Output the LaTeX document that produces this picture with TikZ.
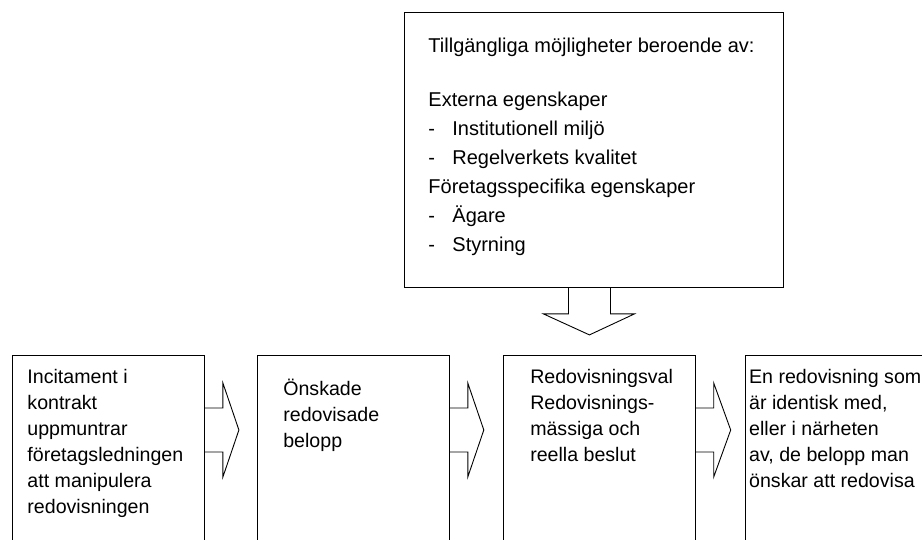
\documentclass[tikz,border=0pt]{standalone}
\usepackage{fontspec}
\setmainfont{Liberation Sans}
\usetikzlibrary{positioning}

\newcommand{\streck}{\makebox[24pt][l]{-}}

\begin{document}
\begin{tikzpicture}[x=1pt, y=-1pt, line width=0.9pt,
    boks/.style={rectangle, draw, inner sep=0pt, anchor=north west, minimum width=192pt, minimum height=200pt},
    txt/.style={anchor=north west, align=left, inner sep=0pt, font=\fontsize{19.6}{26}\selectfont},
    pil/.style={line join=miter}]
    \useasboundingbox (0,0) rectangle (922,539);

    % oeverst: moejligheter
    \node[boks, minimum width=379pt, minimum height=275pt] (moejligheter) at (404,12) {};
    \node[txt, font=\fontsize{20}{29}\selectfont, below right=20pt and 24pt of moejligheter.north west] (moejligheter-text)
        {\strut Tillgängliga möjligheter beroende av:\\[25pt]
         Externa egenskaper\\
         \streck Institutionell miljö\\
         \streck Regelverkets kvalitet\\
         Företagsspecifika egenskaper\\
         \streck Ägare\\
         \streck Styrning};

    % nederst: kedjan
    \node[boks] (incitament) at (12,355) {};
    \node[boks, right=52pt of incitament] (oenskade) {};
    \node[boks, right=53pt of oenskade] (redovisningsval) {};
    \node[boks, right=49pt of redovisningsval] (redovisning) {};

    \node[txt, below right=10pt and 15pt of incitament.north west] (incitament-text)
        {\strut Incitament i\\kontrakt\\uppmuntrar\\företagsledningen\\att manipulera\\redovisningen};
    \node[txt, below right=22pt and 26pt of oenskade.north west] (oenskade-text)
        {\strut Önskade\\redovisade\\belopp};
    \node[txt, below right=10pt and 27pt of redovisningsval.north west] (redovisningsval-text)
        {\strut Redovisningsval\\Redovisnings-\\mässiga och\\reella beslut};
    \node[txt, below right=10pt and 4pt of redovisning.north west] (redovisning-text)
        {\strut En redovisning som\\är identisk med,\\eller i närheten\\av, de belopp man\\önskar att redovisa};

    % blockpilar
    \draw[pil] ([xshift=-25.5pt]moejligheter.south) -- ++(0,26) -- ++(-25,0) -- ++(46,21) -- ++(45,-21) -- ++(-24,0) -- ++(0,-26);
    \draw[pil] ([yshift=-53pt]incitament.north east) -- ++(18,0) -- ++(0,-25) -- ++(16,47) -- ++(-16,47) -- ++(0,-25) -- ++(-18,0);
    \draw[pil] ([yshift=-53pt]oenskade.north east) -- ++(18,0) -- ++(0,-25) -- ++(16,47) -- ++(-16,47) -- ++(0,-25) -- ++(-18,0);
    \draw[pil] ([yshift=-53pt]redovisningsval.north east) -- ++(18,0) -- ++(0,-25) -- ++(17,47) -- ++(-17,47) -- ++(0,-25) -- ++(-18,0);
\end{tikzpicture}
\end{document}
